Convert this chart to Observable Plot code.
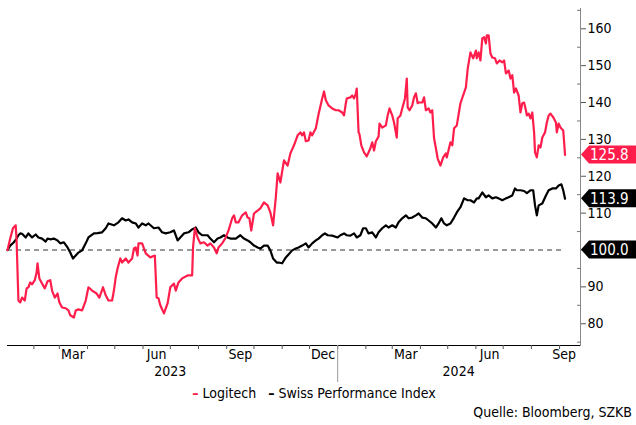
<!DOCTYPE html>
<html>
<head>
<meta charset="utf-8">
<script src="https://cdn.jsdelivr.net/npm/d3@7"></script>
<script src="https://cdn.jsdelivr.net/npm/@observablehq/plot@0.6"></script>
<style>
  body { margin: 0; background: #fff; font-family: "DejaVu Sans Condensed", "DejaVu Sans", sans-serif; }
  #wrap { position: relative; width: 636px; height: 425px; overflow: hidden; background: #fff; }
  #chart svg { display: block; }
  #legend { position: absolute; left: 0; width: 628px; top: 385px; text-align: center; font-size: 14px; line-height: 17px; color: #000; white-space: nowrap; }
  #legend .sw { font-weight: bold; }
  #caption { position: absolute; right: 4px; top: 404px; font-size: 14px; line-height: 17px; color: #000; white-space: nowrap; }
</style>
</head>
<body>
<div id="wrap">
  <div id="chart"></div>
  <div id="legend"><span class="sw" style="color:#ff1e4b">–</span> Logitech&nbsp;&nbsp;&nbsp;<span class="sw" style="color:#000">–</span> Swiss Performance Index</div>
  <div id="caption">Quelle: Bloomberg, SZKB</div>
</div>
<script>
// ---- Data (indexed to 100) ----
const logiDates = [
"2023-01-03","2023-01-06","2023-01-09","2023-01-12","2023-01-13","2023-01-15","2023-01-17","2023-01-19","2023-01-22","2023-01-24",
"2023-01-26","2023-01-28","2023-01-30","2023-02-02","2023-02-04","2023-02-05","2023-02-07","2023-02-10","2023-02-13","2023-02-16",
"2023-02-19","2023-02-21","2023-02-24","2023-02-27","2023-03-01","2023-03-04","2023-03-08","2023-03-11","2023-03-13","2023-03-17",
"2023-03-19","2023-03-22","2023-03-26","2023-03-30","2023-04-02","2023-04-06","2023-04-11","2023-04-14","2023-04-18","2023-04-21",
"2023-04-24","2023-04-28","2023-04-30","2023-05-02","2023-05-04","2023-05-07","2023-05-09","2023-05-13","2023-05-16","2023-05-20",
"2023-05-22","2023-05-24","2023-05-26","2023-05-27","2023-05-31","2023-06-04","2023-06-09","2023-06-14","2023-06-16","2023-06-18",
"2023-06-20","2023-06-24","2023-06-28","2023-07-01","2023-07-05","2023-07-07","2023-07-10","2023-07-14","2023-07-20","2023-07-25",
"2023-07-26","2023-07-28","2023-07-31","2023-08-03","2023-08-07","2023-08-11","2023-08-14","2023-08-18","2023-08-21","2023-08-23",
"2023-08-27","2023-08-31","2023-09-03","2023-09-07","2023-09-09","2023-09-11","2023-09-14","2023-09-18","2023-09-22","2023-09-24",
"2023-09-26","2023-09-28","2023-10-01","2023-10-05","2023-10-08","2023-10-12","2023-10-16","2023-10-19","2023-10-22","2023-10-25",
"2023-10-27","2023-10-30","2023-11-03","2023-11-07","2023-11-10","2023-11-14","2023-11-18","2023-11-21","2023-11-23","2023-11-25",
"2023-11-27","2023-11-30","2023-12-02","2023-12-04","2023-12-08","2023-12-11","2023-12-15","2023-12-17","2023-12-19","2023-12-22",
"2023-12-26","2023-12-30","2024-01-02","2024-01-06","2024-01-08","2024-01-10","2024-01-11","2024-01-15","2024-01-17","2024-01-19",
"2024-01-21","2024-01-22","2024-01-24","2024-01-25","2024-01-27","2024-01-30","2024-02-02","2024-02-06","2024-02-08","2024-02-10",
"2024-02-12","2024-02-15","2024-02-16","2024-02-19","2024-02-23","2024-02-25","2024-02-27","2024-03-01","2024-03-03","2024-03-06",
"2024-03-07","2024-03-10","2024-03-12","2024-03-15","2024-03-17","2024-03-18","2024-03-20","2024-03-23","2024-03-25","2024-03-27",
"2024-03-29","2024-03-30","2024-04-03","2024-04-05","2024-04-07","2024-04-10","2024-04-12","2024-04-14","2024-04-16","2024-04-18",
"2024-04-20","2024-04-23","2024-04-26","2024-04-29","2024-04-30","2024-05-04","2024-05-06","2024-05-08","2024-05-11","2024-05-15",
"2024-05-21","2024-05-23","2024-05-26","2024-05-29","2024-06-01","2024-06-02","2024-06-04","2024-06-06","2024-06-08","2024-06-10",
"2024-06-12","2024-06-13","2024-06-15","2024-06-17","2024-06-19","2024-06-22","2024-06-24","2024-06-27","2024-06-30","2024-07-02",
"2024-07-04","2024-07-07","2024-07-09","2024-07-11","2024-07-13","2024-07-15","2024-07-18","2024-07-20","2024-07-22","2024-07-24",
"2024-07-26","2024-07-27","2024-07-29","2024-07-31","2024-08-02","2024-08-04","2024-08-05","2024-08-07","2024-08-09","2024-08-11",
"2024-08-13","2024-08-16","2024-08-18","2024-08-20","2024-08-22","2024-08-25","2024-08-28","2024-08-29","2024-08-31","2024-09-02",
"2024-09-05","2024-09-06","2024-09-07"
];
const logiValues = [
100.0,103.1,105.9,106.7,102.6,86.3,85.8,87.1,86.3,89.6,
89.9,91.2,90.7,91.8,93.9,96.4,92.3,90.9,89.6,91.5,
91.8,89.0,87.1,88.2,85.8,84.4,84.2,83.6,82.3,81.7,
83.6,83.9,83.6,86.3,89.9,89.0,88.2,87.1,89.9,87.7,
86.3,86.3,89.0,92.6,95.0,97.7,96.6,97.7,96.6,97.7,
100.4,100.7,98.5,101.8,101.8,99.1,98.0,98.5,87.1,86.9,
85.0,82.8,85.5,89.9,90.9,89.0,91.2,92.3,93.1,93.1,
100.7,105.9,103.4,101.8,102.1,101.2,101.8,100.7,99.1,100.7,
101.8,103.4,105.3,108.6,109.4,107.5,107.5,109.4,110.2,108.8,
108.6,105.3,109.9,110.7,111.3,112.9,112.1,110.2,106.7,114.3,
120.8,118.3,124.3,122.9,126.2,128.4,131.1,131.9,131.1,131.9,
129.5,129.7,131.9,131.1,133.0,136.8,141.1,143.0,140.6,139.2,
138.4,137.9,137.9,137.3,136.5,139.8,141.1,141.4,141.9,141.1,
142.5,143.8,131.9,131.4,128.4,126.5,125.4,127.6,129.2,127.0,
129.5,130.8,134.3,133.2,133.8,136.5,138.4,136.5,134.6,130.5,
135.7,136.5,138.4,141.1,146.5,138.7,137.9,139.2,141.4,142.5,
139.8,140.0,140.0,141.4,137.9,138.4,137.3,137.9,130.3,127.6,
124.8,122.9,125.1,126.2,125.1,129.2,128.4,133.0,133.8,139.8,
144.1,149.2,153.6,152.0,154.1,152.0,153.6,151.4,157.4,157.7,
156.0,158.2,158.2,153.3,152.2,152.0,150.6,151.4,150.9,151.4,
147.9,148.7,146.5,147.4,142.7,143.8,141.9,137.3,139.8,140.0,
137.9,136.5,137.0,135.7,137.3,131.9,126.5,125.1,128.4,127.8,
130.5,131.9,134.6,136.5,137.0,136.0,134.6,131.9,134.3,133.2,
132.4,129.2,125.8
];
const spiDates = [
"2023-01-03","2023-01-06","2023-01-10","2023-01-13","2023-01-15","2023-01-17","2023-01-19","2023-01-23","2023-01-26","2023-01-30",
"2023-02-03","2023-02-06","2023-02-10","2023-02-14","2023-02-16","2023-02-19","2023-02-23","2023-02-27","2023-03-02","2023-03-06",
"2023-03-10","2023-03-13","2023-03-16","2023-03-19","2023-03-22","2023-03-26","2023-03-30","2023-04-02","2023-04-08","2023-04-12",
"2023-04-17","2023-04-21","2023-04-24","2023-04-30","2023-05-05","2023-05-09","2023-05-13","2023-05-16","2023-05-20","2023-05-24",
"2023-05-27","2023-05-31","2023-06-04","2023-06-07","2023-06-13","2023-06-18","2023-06-22","2023-06-26","2023-07-01","2023-07-05",
"2023-07-09","2023-07-12","2023-07-16","2023-07-21","2023-07-25","2023-07-29","2023-08-01","2023-08-05","2023-08-11","2023-08-14",
"2023-08-18","2023-08-22","2023-08-25","2023-08-29","2023-09-02","2023-09-05","2023-09-11","2023-09-16","2023-09-20","2023-09-24",
"2023-09-27","2023-10-01","2023-10-05","2023-10-08","2023-10-12","2023-10-16","2023-10-19","2023-10-22","2023-10-26","2023-10-28",
"2023-11-01","2023-11-05","2023-11-08","2023-11-12","2023-11-16","2023-11-19","2023-11-23","2023-11-27","2023-11-30","2023-12-04",
"2023-12-08","2023-12-11","2023-12-15","2023-12-18","2023-12-21","2023-12-26","2024-01-01","2024-01-04","2024-01-08","2024-01-11",
"2024-01-15","2024-01-19","2024-01-22","2024-01-26","2024-01-29","2024-02-01","2024-02-04","2024-02-08","2024-02-12","2024-02-15",
"2024-02-19","2024-02-23","2024-02-26","2024-03-01","2024-03-05","2024-03-08","2024-03-12","2024-03-16","2024-03-19","2024-03-23",
"2024-03-27","2024-03-30","2024-04-03","2024-04-07","2024-04-10","2024-04-14","2024-04-18","2024-04-21","2024-04-24","2024-04-27",
"2024-04-30","2024-05-04","2024-05-08","2024-05-11","2024-05-15","2024-05-19","2024-05-23","2024-05-26","2024-05-30","2024-06-02",
"2024-06-04","2024-06-08","2024-06-12","2024-06-15","2024-06-19","2024-06-23","2024-06-26","2024-06-30","2024-07-04","2024-07-07",
"2024-07-11","2024-07-14","2024-07-16","2024-07-20","2024-07-24","2024-07-27","2024-07-31","2024-08-03","2024-08-05","2024-08-07",
"2024-08-09","2024-08-13","2024-08-17","2024-08-20","2024-08-24","2024-08-28","2024-08-31","2024-09-03","2024-09-05","2024-09-07"
];
const spiValues = [
100.0,101.2,102.1,103.1,104.0,104.5,104.4,103.4,104.5,103.4,
104.2,103.4,103.1,102.3,103.1,102.9,103.1,102.6,101.8,102.1,
100.7,99.3,97.7,98.5,99.3,99.9,101.8,103.4,104.5,104.6,
104.8,105.9,107.2,106.7,107.5,108.6,108.0,108.3,107.5,107.2,
106.1,107.2,106.7,107.2,105.9,106.1,104.8,104.5,104.8,105.3,
102.6,103.4,104.5,104.8,105.6,106.1,104.8,104.0,104.0,103.1,
102.1,103.1,103.4,104.0,103.4,103.1,103.1,104.0,103.1,102.6,
102.1,101.2,100.7,100.4,101.2,101.2,99.9,97.7,96.6,96.6,
96.4,98.0,98.8,99.9,100.4,100.7,101.2,101.8,100.7,101.8,
102.6,103.1,104.0,104.5,104.0,103.9,103.4,104.0,104.5,104.0,
103.9,104.5,103.4,104.0,105.9,105.9,104.5,104.8,103.4,104.8,
105.9,106.7,106.1,106.7,106.1,107.5,108.6,109.4,108.6,108.8,
109.4,109.9,108.8,108.6,108.0,107.2,106.1,107.2,108.6,107.2,
106.7,107.2,108.8,110.2,111.6,114.0,113.5,113.5,112.9,114.0,
114.0,115.6,114.3,114.8,114.0,114.3,114.0,113.5,114.0,114.3,
114.8,116.7,116.2,116.2,116.0,115.4,116.2,116.2,112.1,109.4,
112.1,112.6,114.8,116.2,116.7,116.7,117.5,117.8,116.2,113.9
];

// Axis labels
const monthLabelDates = ["2023-03-16","2023-06-16","2023-09-16","2023-12-16","2024-03-16","2024-06-16","2024-09-06"];
const monthLabels = ["Mar","Jun","Sep","Dec","Mar","Jun","Sep"];
const yearLabelDates = ["2023-07-01","2024-05-13"];
const yearLabels = ["2023","2024"];
const yearBreaks = ["2024-01-01"];
const yMajorTicks = [80, 90, 100, 110, 120, 130, 140, 150, 160];
const yTickLabels = [80, 90, 110, 120, 130, 140, 150, 160]; // 100 is covered by its value tag
const yMinorTicks = [75, 85, 95, 105, 115, 125, 135, 145, 155, 165];
const baseline = 100;
const xStart = "2023-01-03", xEnd = "2024-09-24";
const yMin = 74.1, yMax = 165.5;

// Value tags
const tagValues = [125.8, 113.9, 100.0];
const tagColors = ["#ff1e4b", "#000000", "#000000"];

const RED = "#ff1e4b";
const FONT = '"DejaVu Sans Condensed", "DejaVu Sans", sans-serif';

const parse = d3.utcParse("%Y-%m-%d");
const logi = logiDates.map((d, i) => ({date: parse(d), value: logiValues[i]}));
const spi = spiDates.map((d, i) => ({date: parse(d), value: spiValues[i]}));
const monthStarts = d3.utcMonth.range(parse("2023-02-01"), parse(xEnd));

const chart = Plot.plot({
  width: 636,
  height: 388,
  marginLeft: 7,
  marginRight: 56,
  marginTop: 8,
  marginBottom: 43,
  style: {fontFamily: FONT, fontSize: "14px", color: "#000", background: "#fff", overflow: "visible"},
  x: {type: "utc", domain: [parse(xStart), parse(xEnd)]},
  y: {domain: [yMin, yMax]},
  marks: [
    Plot.ruleY([{y: baseline, x1: logi[0].date, x2: logi[logi.length - 1].date}],
      {y: "y", x1: "x1", x2: "x2", stroke: "#333", strokeWidth: 1, strokeDasharray: "5,4"}),
    Plot.line(spi, {x: "date", y: "value", stroke: "#000", strokeWidth: 2.2, strokeLinejoin: "round"}),
    Plot.line(logi, {x: "date", y: "value", stroke: RED, strokeWidth: 2.2, strokeLinejoin: "round"}),
    Plot.frame({anchor: "bottom", stroke: "#000", strokeWidth: 1}),
    Plot.frame({anchor: "right", stroke: "#8a8a8a", strokeWidth: 1}),
    Plot.axisX(monthStarts, {tickSize: 4, tickFormat: () => "", label: null, stroke: "#555"}),
    Plot.axisX(yearBreaks.map(parse), {tickSize: 37, tickFormat: () => "", label: null, stroke: "#999"}),
    Plot.text(monthLabelDates.map(parse), {x: d => d, text: (d, i) => monthLabels[i], frameAnchor: "bottom", lineAnchor: "top", dy: 4, fill: "#000"}),
    Plot.text(yearLabelDates.map(parse), {x: d => d, text: (d, i) => yearLabels[i], frameAnchor: "bottom", lineAnchor: "top", dy: 21, fill: "#000"}),
    Plot.axisY(yMajorTicks, {anchor: "right", tickSize: 5, label: null, stroke: "#555", text: null}),
    Plot.axisY(yTickLabels, {anchor: "right", tickSize: 0, tickPadding: 7, label: null, tickFormat: d => String(d)}),
    Plot.axisY(yMinorTicks.filter(v => v > yMin && v < yMax), {anchor: "right", tickSize: -4, text: null, label: null, stroke: "#777"})
  ]
});

document.getElementById("chart").appendChild(chart);

// Value tags on the right axis, positioned with the plot's own scales
const ys = chart.scale("y");
const xs = chart.scale("x");
const svg = d3.select(chart);
const x0 = xs.apply(parse(xEnd)) + 1;
const h = 9;
tagValues.forEach((v, i) => {
  const y = ys.apply(v);
  const g = svg.append("g").attr("text-anchor", "start");
  g.append("path")
    .attr("d", `M${x0},${y} L${x0 + 8},${y - h} L636,${y - h} L636,${y + h} L${x0 + 8},${y + h} Z`)
    .attr("fill", tagColors[i]);
  g.append("text")
    .attr("x", x0 + 9)
    .attr("y", y)
    .attr("dy", "0.36em")
    .attr("text-anchor", "start")
    .attr("fill", "#fff")
    .attr("font-family", FONT)
    .attr("font-size", 15)
    .text(v.toFixed(1));
});
</script>
</body>
</html>
